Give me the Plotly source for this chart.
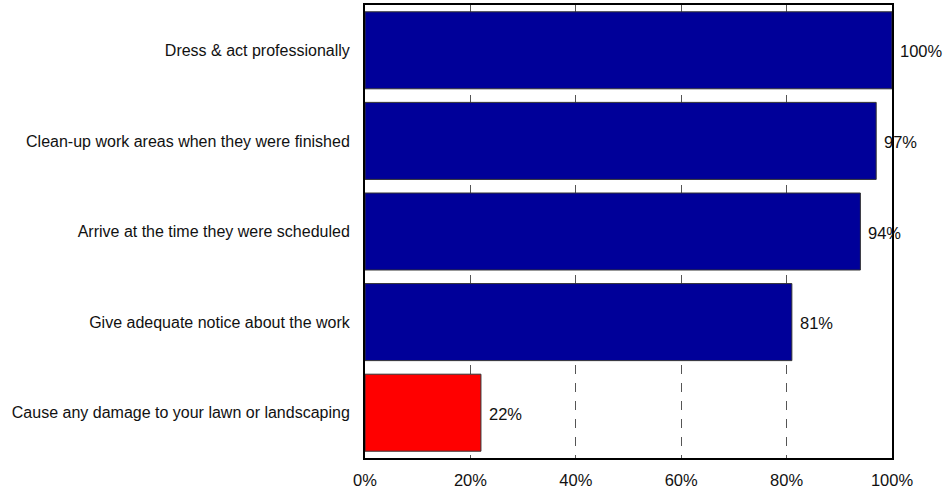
import plotly.graph_objects as go

categories = [
    "Dress & act professionally",
    "Clean-up work areas when they were finished",
    "Arrive at the time they were scheduled",
    "Give adequate notice about the work",
    "Cause any damage to your lawn or landscaping",
]
values = [100, 97, 94, 81, 22]
labels = ["100%", "97%", "94%", "81%", "22%"]
colors = ["#000099", "#000099", "#000099", "#000099", "#FF0000"]
tick_vals = [0, 20, 40, 60, 80, 100]
tick_text = ["0%", "20%", "40%", "60%", "80%", "100%"]

FONT = "Liberation Sans, Arial, sans-serif"

fig = go.Figure()
fig.add_trace(go.Bar(
    x=values, y=categories, orientation="h",
    marker=dict(color=colors, line=dict(color="#333333", width=1)),
    hoverinfo="skip",
))

for v, c, t in zip(values, categories, labels):
    fig.add_annotation(
        x=v, y=c, text=t, showarrow=False,
        xanchor="left", yanchor="middle", xshift=6, yshift=-1,
        font=dict(size=16.5, color="#111111", family=FONT),
    )

fig.update_layout(
    width=946, height=492,
    margin=dict(l=365, r=54, t=3, b=30),
    paper_bgcolor="white", plot_bgcolor="white",
    showlegend=False, bargap=0.15,
    font=dict(family=FONT, size=16, color="#111111"),
    xaxis=dict(
        range=[0, 100], tickvals=tick_vals, ticktext=tick_text,
        showgrid=True, gridcolor="#555555", griddash="dash", gridwidth=1,
        showline=True, linecolor="black", linewidth=2, mirror=True,
        zeroline=False, ticks="", tickfont=dict(size=16.5),
        ticklabelstandoff=6,
        fixedrange=True,
    ),
    yaxis=dict(
        autorange="reversed", showgrid=False,
        showline=True, linecolor="black", linewidth=2, mirror=True,
        ticks="", ticklabelstandoff=10, tickfont=dict(size=16),
        fixedrange=True,
    ),
)

fig.write_html("out.html")
